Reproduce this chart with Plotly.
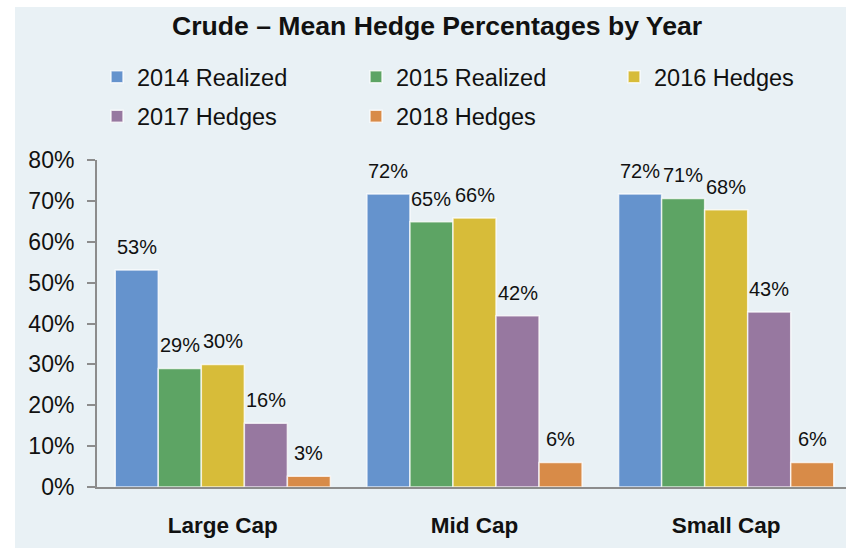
import plotly.graph_objects as go

# data
categories = ["Large Cap", "Mid Cap", "Small Cap"]
series_names = ["2014 Realized", "2015 Realized", "2016 Hedges", "2017 Hedges", "2018 Hedges"]
realized_2014 = [0.531, 0.717, 0.717]
realized_2015 = [0.290, 0.649, 0.706]
hedges_2016 = [0.300, 0.658, 0.678]
hedges_2017 = [0.156, 0.419, 0.428]
hedges_2018 = [0.026, 0.060, 0.060]
y_ticks = [0, 0.1, 0.2, 0.3, 0.4, 0.5, 0.6, 0.7, 0.8]

series_values = [realized_2014, realized_2015, hedges_2016, hedges_2017, hedges_2018]
colors = ["#6593CD", "#5DA464", "#D7BC39", "#9778A0", "#D88B48"]
# legend laid out in three columns, one plotly legend per column
legend_ids = ["legend", "legend2", "legend3", "legend", "legend2"]

PANEL = "#E9F1F5"

# the source chart's plot area runs a few px past the right edge of the crop
W, H = 852, 548
ML, MR, MT, MB = 97, 0, 160, 61
plot_w = W - ML - MR
plot_h = H - MT - MB
BARGAP = 0.145
bar_px = plot_w / len(categories) * (1 - BARGAP) / len(series_names)

font_family = "Arial, Liberation Sans, sans-serif"

fig = go.Figure()

for name, vals, col, lg in zip(series_names, series_values, colors, legend_ids):
    fig.add_trace(go.Bar(
        x=categories,
        y=vals,
        name=name,
        marker=dict(color=col, line=dict(color="rgba(255,255,255,0.75)", width=1.5)),
        legend=lg,
        legendgroup=name,
        hovertemplate="%{x}: %{y:.0%}<extra>" + name + "</extra>",
    ))

# value labels above each bar
annotations = []
for i, vals in enumerate(series_values):
    for cat, v in zip(categories, vals):
        annotations.append(dict(
            x=cat, y=v, text=f"{v:.0%}",
            xref="x", yref="y",
            showarrow=False,
            xshift=(i - 2) * bar_px,
            yshift=23,
            yanchor="middle",
            font=dict(size=20, color="#111111", family=font_family),
        ))

# white strips along the left and top edges; the rest of the page is the panel colour
left_strip = dict(
    type="rect", xref="paper", yref="paper", layer="below",
    x0=-ML / plot_w - 0.01, x1=(15 - ML) / plot_w,
    y0=-MB / plot_h - 0.02, y1=1 + MT / plot_h + 0.02,
    fillcolor="white", line=dict(width=0),
)
top_strip = dict(
    type="rect", xref="paper", yref="paper", layer="below",
    x0=-ML / plot_w - 0.01, x1=1.02,
    y0=1 + (MT - 7) / plot_h, y1=1 + MT / plot_h + 0.02,
    fillcolor="white", line=dict(width=0),
)

def legend_col(px, py=55):
    # px, py: top-left corner of the legend column in page pixels
    return dict(
        orientation="v",
        xref="paper", yref="paper",
        x=(px - ML) / plot_w, y=(H - MB - py) / plot_h,
        xanchor="left", yanchor="top",
        tracegroupgap=6,
        bgcolor="rgba(0,0,0,0)",
        font=dict(size=23.5, color="#111111", family=font_family),
        itemclick=False, itemdoubleclick=False,
    )

fig.update_layout(
    width=W, height=H,
    margin=dict(l=ML, r=MR, t=MT, b=MB),
    paper_bgcolor=PANEL,
    plot_bgcolor="rgba(0,0,0,0)",
    barmode="group",
    bargap=BARGAP,
    bargroupgap=0,
    font=dict(family=font_family, color="#111111"),
    title=dict(
        text="Crude – Mean Hedge Percentages by Year",
        xref="container", yref="container",
        x=437 / W, y=1 - 26 / H, xanchor="center", yanchor="middle",
        font=dict(size=26.6, weight="bold", color="#111111", family=font_family),
    ),
    legend=legend_col(97),
    legend2=legend_col(356),
    legend3=legend_col(614),
    xaxis=dict(
        showline=True, linecolor="#8C8C8C", linewidth=2,
        ticks="", showgrid=False,
        tickfont=dict(size=22.5, weight="bold", color="#111111", family=font_family),
        ticklabelstandoff=17,
    ),
    yaxis=dict(
        range=[0, 0.8],
        tickvals=y_ticks,
        tickformat=".0%",
        showline=True, linecolor="#8C8C8C", linewidth=2,
        ticks="outside", ticklen=8, tickwidth=2, tickcolor="#8C8C8C",
        showgrid=False, zeroline=False,
        tickfont=dict(size=23, color="#111111", family=font_family),
        ticklabelstandoff=8,
    ),
    shapes=[left_strip, top_strip],
    annotations=annotations,
)

# drop the default page margin so the figure sits at the window's corner
page_js = (
    "document.body.style.margin='0';document.body.style.overflow='hidden';"
    "document.body.style.background='" + PANEL + "';"
)
fig.write_html("out.html", config={"displayModeBar": False}, post_script=page_js)
